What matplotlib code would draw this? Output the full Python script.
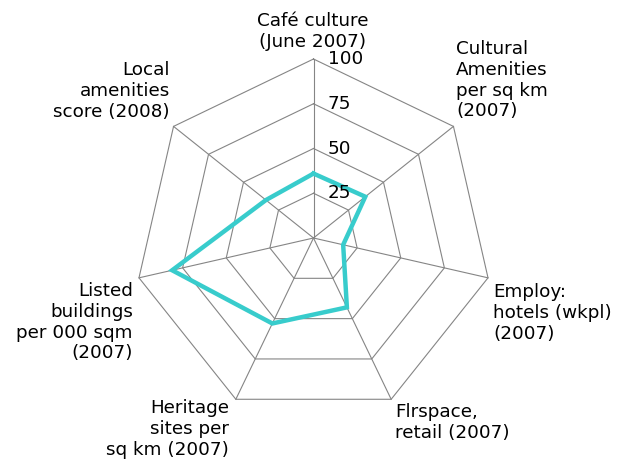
import numpy as np
import matplotlib
matplotlib.use("Agg")
import matplotlib.pyplot as plt

# axis labels, clockwise from the top
labels = ['Café culture\n(June 2007)',
          'Cultural\nAmenities\nper sq km\n(2007)',
          'Employ:\nhotels (wkpl)\n(2007)',
          'Flrspace,\nretail (2007)',
          'Heritage\nsites per\nsq km (2007)',
          'Listed\nbuildings\nper 000 sqm\n(2007)',
          'Local\namenities\nscore (2008)']
values = [36, 37, 17, 43, 53, 81, 34]
rings = [25, 50, 75, 100]
ring_labels = ['25', '50', '75', '100']

W, H = 619, 465
cx, cy = 313.5, 238      # centre of the web, pixels from top-left
scale = 1.79             # pixels per unit of value

def px(x, y):
    # pixel position (from top-left) -> data coords
    return (x - cx) / scale, (cy - y) / scale

n = len(labels)
theta = np.arange(n) * 2 * np.pi / n

fig = plt.figure(figsize=(W / 100, H / 100), dpi=100)
ax = fig.add_axes([0, 0, 1, 1])
ax.set_xlim(-cx / scale, (W - cx) / scale)
ax.set_ylim(-(H - cy) / scale, cy / scale)
ax.axis('off')

grid_col = '#858585'
# polygon rings
for r in rings:
    t = np.append(theta, theta[0])
    ax.plot(r * np.sin(t), r * np.cos(t), color=grid_col, lw=0.8, zorder=1)
# spokes
for t in theta:
    ax.plot([0, rings[-1] * np.sin(t)], [0, rings[-1] * np.cos(t)],
            color=grid_col, lw=0.8, zorder=1)

# data line
v = np.append(values, values[0])
t = np.append(theta, theta[0])
ax.plot(v * np.sin(t), v * np.cos(t), color='#38cccc', lw=3.2,
        solid_joinstyle='miter', zorder=3)

fs = 13.2
fkw = dict(fontsize=fs, family='DejaVu Sans', color='black')

# ring value labels next to the top axis
for r, s in zip(rings, ring_labels):
    ax.text(14 / scale, r, s, ha='left', va='center', zorder=4, **fkw)

# axis labels (pixel anchors)
spots = [
    (313, 12, 'center', 'center'),
    (456, 40, 'left', 'left'),
    (493, 283, 'left', 'left'),
    (395, 403, 'left', 'left'),
    (229, 399, 'right', 'right'),
    (133, 282, 'right', 'right'),
    (170, 61, 'right', 'right'),
]
for lab, (x, y, ha, ma) in zip(labels, spots):
    ax.text(*px(x, y), lab, ha=ha, va='top', multialignment=ma,
            zorder=4, **fkw)

fig.savefig('out.png', dpi=100)
